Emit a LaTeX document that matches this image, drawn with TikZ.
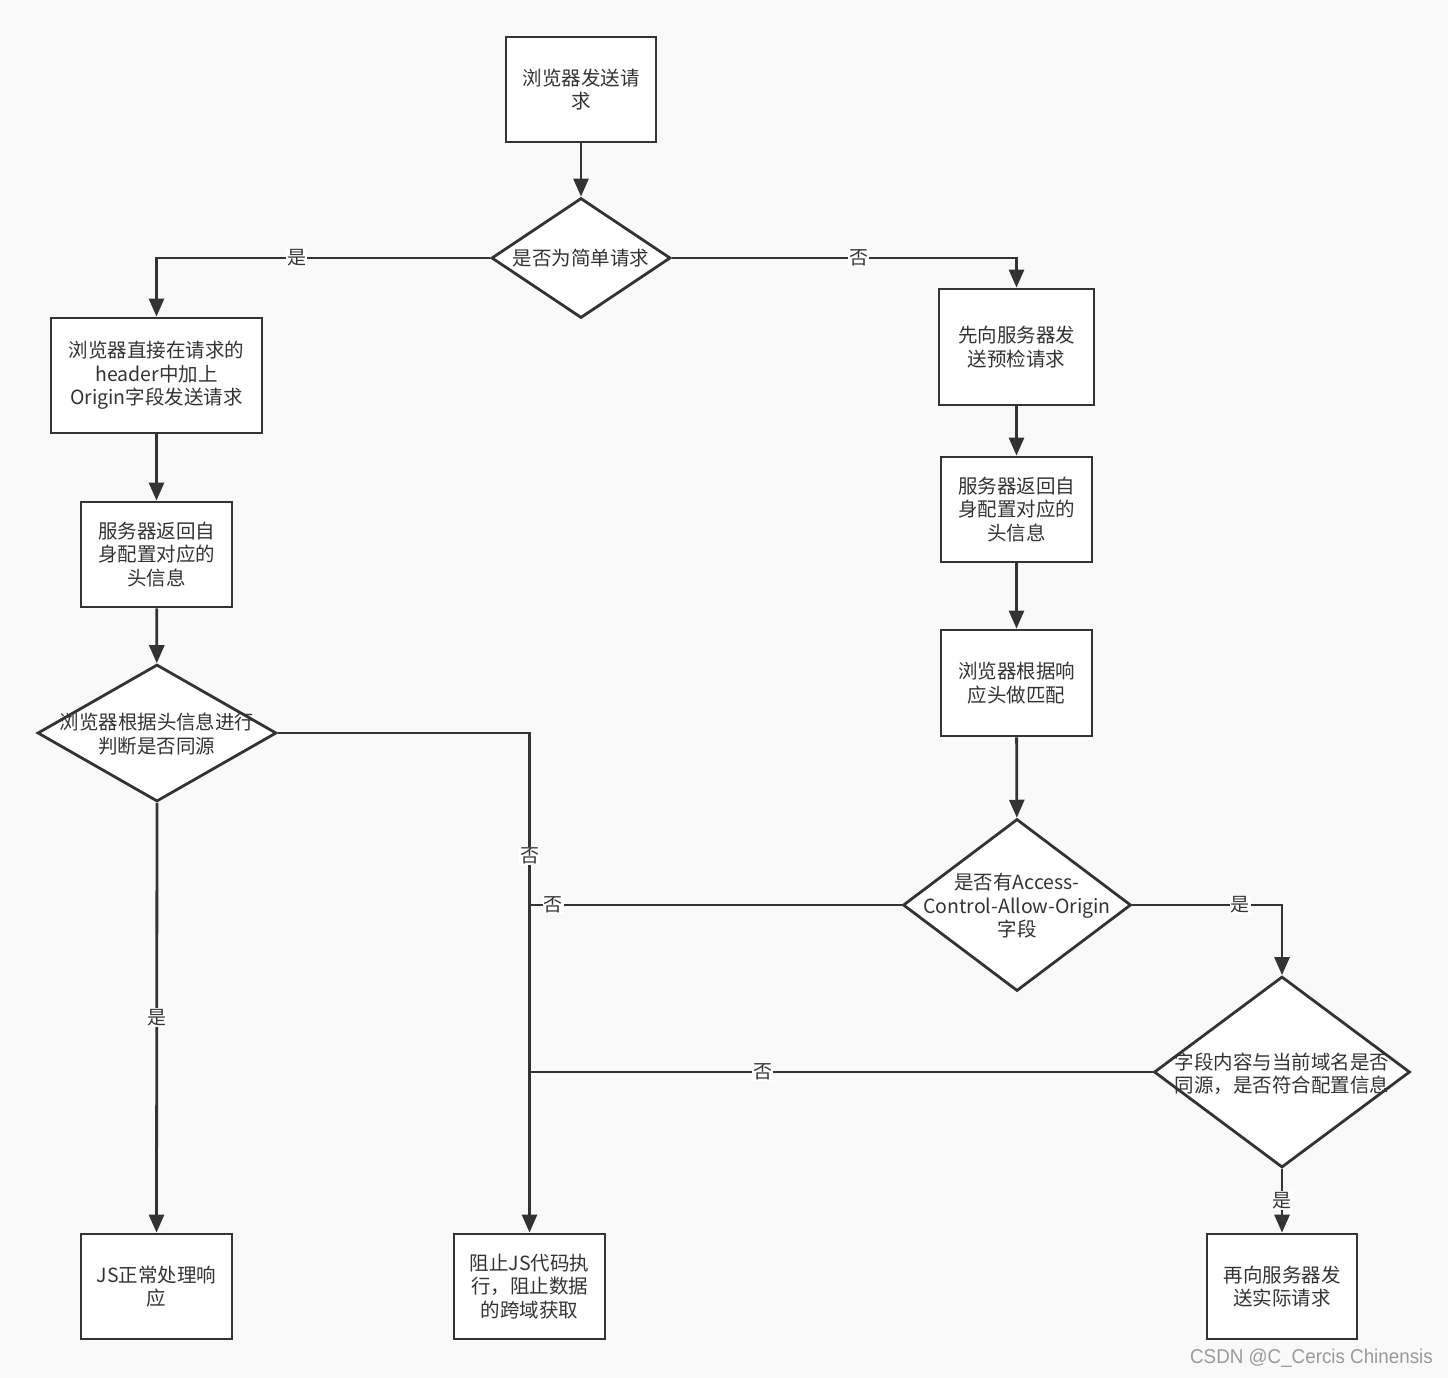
\documentclass[tikz,border=0pt]{standalone}
\usepackage{fontspec}
\setmainfont{Noto Sans CJK SC}
\newfontfamily\wmfont{Liberation Sans}
\usetikzlibrary{arrows.meta,shapes.geometric}
\definecolor{bgc}{HTML}{F9F9F9}
\definecolor{lnc}{HTML}{333333}
\definecolor{txc}{HTML}{333333}
\definecolor{wmc}{HTML}{9A9A9A}
\begin{document}
\begin{tikzpicture}[x=1pt,y=-1pt,
  box/.style={draw=lnc,line width=2.8pt,fill=white,rectangle,inner sep=0pt,align=center,text=txc,font=\fontsize{19.5}{23.5}\selectfont},
  dia/.style={draw=lnc,line width=2.8pt,fill=white,diamond,inner sep=0pt},
  dtxt/.style={align=center,text=txc,font=\fontsize{19.5}{23.5}\selectfont,inner sep=0pt},
  conn/.style={draw=lnc,line width=2.8pt},
  arr/.style={conn,-{Triangle[length=18pt,width=15pt]}},
  lbl/.style={fill=white,inner sep=1pt,text=txc,font=\fontsize{19}{22}\selectfont}
]
\fill[bgc] (0,0) rectangle (1448,1377);
\useasboundingbox (0,0) rectangle (1448,1377);

% boxes
\node[box,minimum width=150,minimum height=105] (n1) at (581,89.5) {浏览器发送请\\求};
\node[box,minimum width=211,minimum height=115] (n2) at (156.5,375.5) {浏览器直接在请求的\\header中加上\\Origin字段发送请求};
\node[box,minimum width=151,minimum height=105] (n3) at (156.5,554.5) {服务器返回自\\身配置对应的\\头信息};
\node[box,minimum width=151,minimum height=105] (n4) at (156.5,1286.5) {JS正常处理响\\应};
\node[box,minimum width=151,minimum height=105] (n5) at (529.5,1286.5) {阻止JS代码执\\行，阻止数据\\的跨域获取};
\node[box,minimum width=155,minimum height=116] (n6) at (1016.5,347) {先向服务器发\\送预检请求};
\node[box,minimum width=151,minimum height=105] (n7) at (1016.5,509.5) {服务器返回自\\身配置对应的\\头信息};
\node[box,minimum width=151,minimum height=106] (n8) at (1016.5,683) {浏览器根据响\\应头做匹配};
\node[box,minimum width=150,minimum height=105] (n9) at (1282,1286.5) {再向服务器发\\送实际请求};

% diamonds
\node[dia,minimum width=179,minimum height=120] (d1) at (581,258) {};
\node[dtxt] (t1) at (d1) {是否为简单请求};
\node[dia,minimum width=239,minimum height=137] (d2) at (157,733) {};
\node[dtxt] (t2) at (157,734) {浏览器根据头信息进行\\判断是否同源};
\node[dia,minimum width=228,minimum height=172] (d3) at (1017,905) {};
\node[dtxt] (t3) at (1017,906) {是否有Access-\\Control-Allow-Origin\\字段};
\node[dia,minimum width=256,minimum height=191] (d4) at (1282,1072) {};
\node[dtxt] (t4) at (1282,1074) {字段内容与当前域名是否\\同源，是否符合配置信息};

% connectors
\draw[arr] (n1) -- (d1);
\draw[arr] (d1.west) -| node[lbl,pos=0.29] {是} (n2.north);
\draw[arr] (d1.east) -| node[lbl,pos=0.271] {否} (n6.north);
\draw[arr] (n2) -- (n3);
\draw[arr] (n3) -- (d2);
\draw[arr] (d2.south) -- node[lbl,pos=0.5] {是} (n4.north);
\draw[arr] (d2.east) -| node[lbl,pos=0.623] {否} (n5.north);
\draw[arr] (n6) -- (n7);
\draw[arr] (n7) -- (n8);
\draw[arr] (n8) -- (d3);
\coordinate (j1) at (d3.west -| n5.north);
\coordinate (j2) at (d4.west -| n5.north);
\draw[conn] (d3.west) -- node[lbl,pos=0.936] {否} (j1);
\draw[conn] (d4.west) -- node[lbl,pos=0.626] {否} (j2);
\draw[arr] (d3.east) -| node[lbl,pos=0.36] {是} (d4.north);
\draw[arr] (d4.south) -- node[lbl,pos=0.5] {是} (n9.north);

% watermark
\node[anchor=east,inner sep=0pt,text=wmc,font=\wmfont\fontsize{20}{22}\selectfont] (wm) at (1433,1358) {\scalebox{0.94}[1]{CSDN @C\_Cercis Chinensis}};
\end{tikzpicture}
\end{document}
